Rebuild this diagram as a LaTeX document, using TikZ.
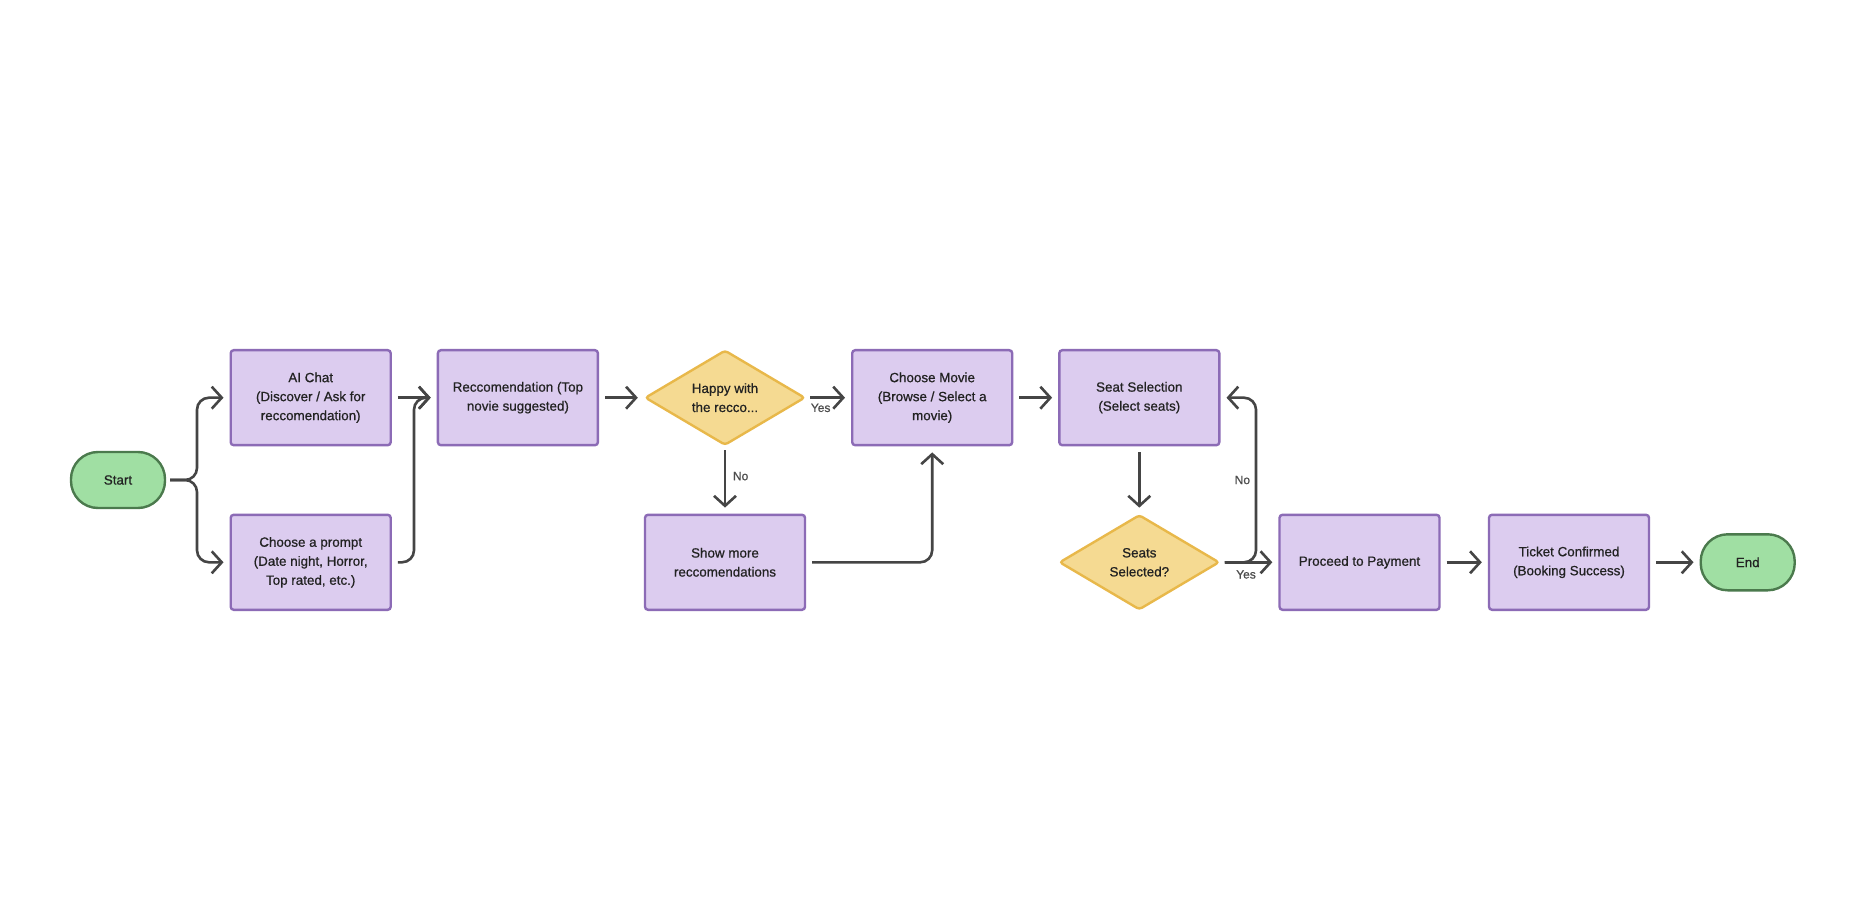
\documentclass[tikz,border=0pt]{standalone}
\usepackage{fontspec}
\setmainfont{Liberation Sans}[FakeBold=0.7]
\usetikzlibrary{shapes.geometric,arrows.meta,calc}
\definecolor{boxfill}{HTML}{DCCCEF}
\definecolor{boxdraw}{HTML}{8C6BB6}
\definecolor{dfill}{HTML}{F5DA92}
\definecolor{ddraw}{HTML}{E8B84A}
\definecolor{tfill}{HTML}{A0DFA3}
\definecolor{tdraw}{HTML}{4B7A4D}
\definecolor{conncol}{HTML}{454545}
\definecolor{txtcol}{HTML}{222222}
\begin{document}
\begin{tikzpicture}[x=0.5pt,y=-0.5pt,
  every node/.style={font=\fontsize{6.7pt}{9.5pt}\selectfont, text=txtcol, align=center},
  procbox/.style={rectangle, rounded corners=1.5pt, draw=boxdraw, fill=boxfill, line width=1.2pt, minimum width=80pt, minimum height=47.5pt, inner sep=1pt},
  decbox/.style={diamond, rounded corners=1.5pt, draw=ddraw, fill=dfill, line width=1.2pt, minimum width=80pt, minimum height=47.5pt, inner sep=0pt, aspect=1.68},
  termbox/.style={rectangle, rounded corners=13.5pt, draw=tdraw, fill=tfill, line width=1.2pt, minimum width=47pt, minimum height=28pt},
  conn/.style={draw=conncol, line width=1.3pt, rounded corners=6pt, -{Straight Barb[length=5pt,width=11pt,line width=1.3pt]}},
  lab/.style={font=\fontsize{6pt}{7pt}\selectfont, text=black!70},
]
\useasboundingbox[fill=white] (0,0) rectangle (1856,924);

\node[termbox] (start) at (118,480) {Start};
\node[procbox] (ai) at (310.7,397.7) {AI Chat\\(Discover / Ask for\\reccomendation)};
\node[procbox] (prompt) at (310.7,562.3) {Choose a prompt\\(Date night, Horror,\\Top rated, etc.)};
\node[procbox] (rec) at (517.9,397.7) {Reccomendation (Top\\novie suggested)};
\node[decbox] (happy) at (725,397.7) {Happy with\\the recco...};
\node[procbox] (movie) at (932.2,397.7) {Choose Movie\\(Browse / Select a\\movie)};
\node[procbox] (seat) at (1139.3,397.7) {Seat Selection\\(Select seats)};
\node[procbox] (more) at (725,562.3) {Show more\\reccomendations};
\node[decbox] (sel) at (1139.3,562.3) {Seats\\Selected?};
\node[procbox] (pay) at (1359.5,562.3) {Proceed to Payment};
\node[procbox] (ticket) at (1569,562.3) {Ticket Confirmed\\(Booking Success)};
\node[termbox] (end) at (1747.7,562.3) {End};

\coordinate (br) at (197,480);
\coordinate (mg) at (414,480);
\coordinate (nb) at (1256,480);

\draw[conn] ([xshift=2pt]start.east) -- (br) |- ([xshift=-3pt]ai.west);
\draw[conn] ([xshift=2pt]start.east) -- (br) |- ([xshift=-3pt]prompt.west);
\draw[conn] ([xshift=3pt]ai.east) -- ([xshift=-3pt]rec.west);
\draw[conn] ([xshift=3pt]prompt.east) -- (mg |- prompt.east) |- ([xshift=-3pt]rec.west);
\draw[conn] ([xshift=3pt]rec.east) -- ([xshift=-3pt]happy.west);
\draw[conn] ([xshift=2pt]happy.east) -- node[lab, pos=0.3, below=-1pt] {Yes} ([xshift=-3pt]movie.west);
\draw[conn] ([yshift=-2pt]happy.south) -- node[lab, right=0pt, pos=0.45] {No} ([yshift=3pt]more.north);
\draw[conn] ([xshift=3pt]more.east) -| ([yshift=-3pt]movie.south);
\draw[conn] ([xshift=3pt]movie.east) -- ([xshift=-3pt]seat.west);
\draw[conn] ([yshift=-3pt]seat.south) -- ([yshift=3pt]sel.north);
\draw[conn] ([xshift=2pt]sel.east) -- node[lab, pos=0.45, below=0pt] {Yes} ([xshift=-3pt]pay.west);
\draw[conn] ([xshift=2pt]sel.east) -- (nb |- sel.east) -- node[lab, left=-1pt, pos=0.5] {No} (nb |- seat.east) -- ([xshift=3pt]seat.east);
\draw[conn] ([xshift=3pt]pay.east) -- ([xshift=-3pt]ticket.west);
\draw[conn] ([xshift=3pt]ticket.east) -- ([xshift=-3pt]end.west);
\end{tikzpicture}
\end{document}
